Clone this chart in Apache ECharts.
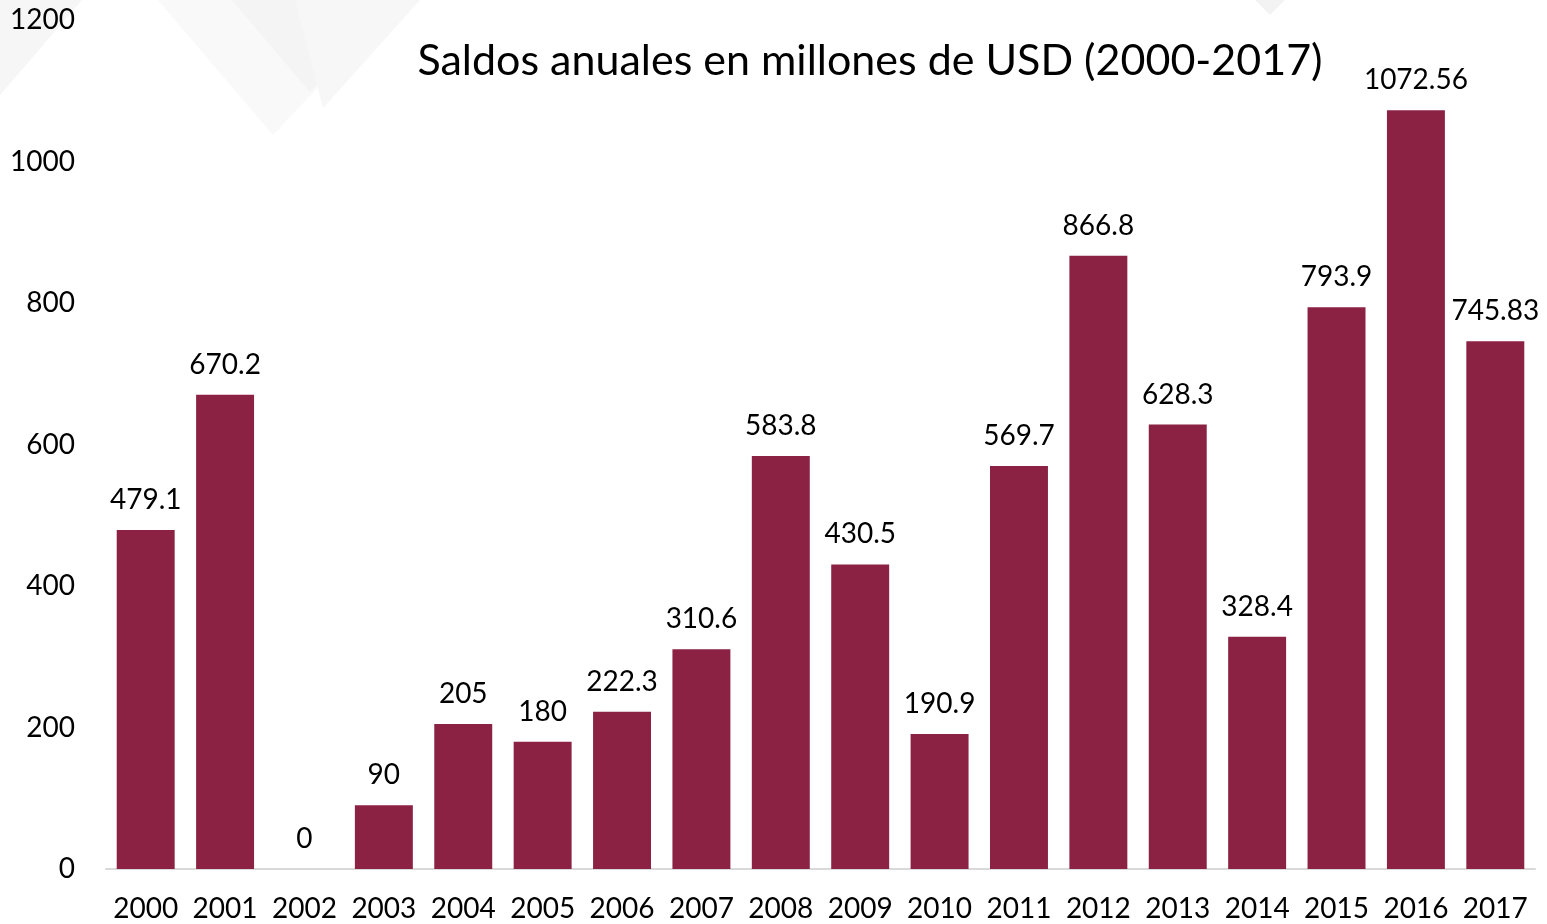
<!DOCTYPE html>
<html>
<head>
<meta charset="utf-8">
<script src="https://cdn.jsdelivr.net/npm/echarts@6/dist/echarts.min.js"></script>
<style>
  html, body { margin: 0; padding: 0; background: #fff; }
  #chart { width: 1547px; height: 924px; }
</style>
</head>
<body>
<div id="chart"></div>
<script>
// years and yearly balances (millions USD)
var years = ['2000', '2001', '2002', '2003', '2004', '2005', '2006', '2007', '2008',
  '2009', '2010', '2011', '2012', '2013', '2014', '2015', '2016', '2017']
var saldos = [479.1, 670.2, 0, 90, 205, 180, 222.3, 310.6, 583.8,
  430.5, 190.9, 569.7, 866.8, 628.3, 328.4, 793.9, 1072.56, 745.83]
var titulo = 'Saldos anuales en millones de USD (2000-2017)'

var font = 'Lato, "Open Sans", sans-serif'
var myChart = echarts.init(document.getElementById('chart'))
myChart.setOption({
  animation: false,
  backgroundColor: '#ffffff',
  title: {
    text: titulo,
    left: 865,
    top: 35,
    textAlign: 'center',
    textStyle: { fontFamily: font, fontSize: 43, fontWeight: 'normal', color: '#000' }
  },
  // faint decorative triangles in the background
  graphic: [
    { type: 'polygon', z: -10, shape: { points: [[0, 0], [82, 0], [0, 95]] }, style: { fill: '#f6f6f6' } },
    { type: 'polygon', z: -10, shape: { points: [[158, 0], [400, 0], [273, 135]] }, style: { fill: '#f9f9f9' } },
    { type: 'polygon', z: -9, shape: { points: [[232, 0], [392, 0], [310, 92]] }, style: { fill: '#f4f4f4' } },
    { type: 'polygon', z: -9, shape: { points: [[295, 0], [420, 0], [323, 108]] }, style: { fill: '#f7f7f7' } },
    { type: 'polygon', z: -10, shape: { points: [[1255, 0], [1285, 0], [1270, 15]] }, style: { fill: '#f3f3f3' } }
  ],
  grid: { left: 106, right: 12, top: 20, bottom: 55 },
  xAxis: {
    type: 'category',
    data: years,
    axisLine: { lineStyle: { color: '#d9d9d9', width: 2 } },
    axisTick: { show: false },
    axisLabel: { interval: 0, fontFamily: font, fontSize: 28, color: '#000', margin: 26 }
  },
  yAxis: {
    type: 'value',
    min: 0,
    max: 1200,
    interval: 200,
    splitLine: { show: false },
    axisLine: { show: false },
    axisTick: { show: false },
    axisLabel: {
      fontFamily: font, fontSize: 28, color: '#000', margin: 31,
      formatter: function (v) { return String(v) }
    }
  },
  series: [
    {
      type: 'bar',
      data: saldos,
      barCategoryGap: '27%',
      itemStyle: { color: '#8b2143' },
      label: {
        show: true,
        position: 'top',
        distance: 16,
        fontFamily: font,
        fontSize: 28,
        color: '#000'
      }
    }
  ]
})
</script>
</body>
</html>
